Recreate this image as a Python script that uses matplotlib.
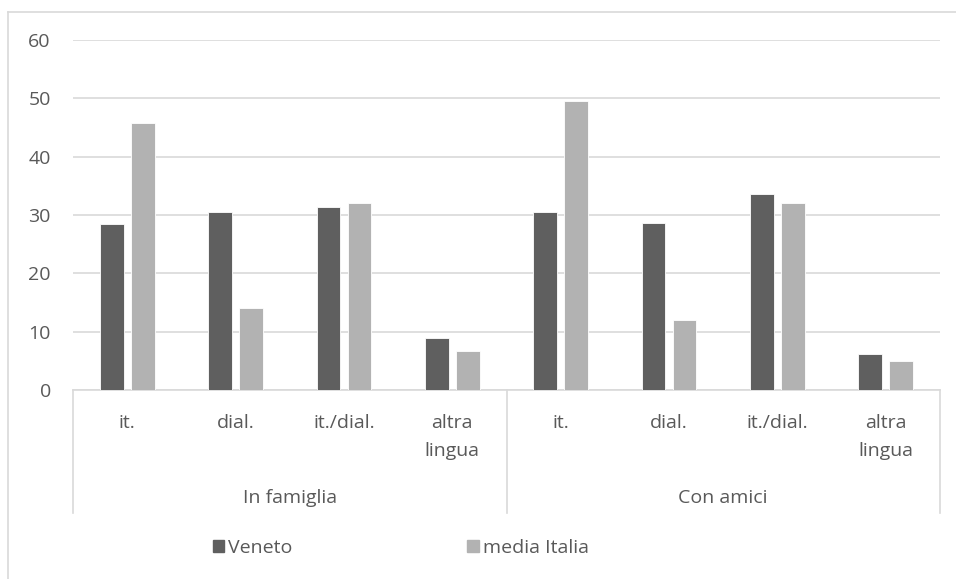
import numpy as np
import matplotlib.pyplot as plt
from matplotlib.transforms import blended_transform_factory
from matplotlib.patches import Patch

plt.rcParams['font.family'] = ['Open Sans', 'DejaVu Sans']

groups = ["In famiglia", "Con amici"]
categories = ["it.", "dial.", "it./dial.", "altra\nlingua"]
veneto = [28.4, 30.5, 31.3, 8.9, 30.5, 28.6, 33.6, 6.1]
media_italia = [45.8, 14.0, 32.1, 6.7, 49.6, 12.0, 32.1, 5.0]
series_names = ["Veneto", "media Italia"]

dark = "#5f5f5f"
light = "#b2b2b2"
grid = "#d9d9d9"
txt = "#595959"
fs = 14

W, H = 956, 579
fig = plt.figure(figsize=(W / 100, H / 100), dpi=100)
ax = fig.add_axes([73 / W, (H - 390) / H, (940 - 73) / W, (390 - 40) / H])

x = np.arange(len(veneto))
bw = 0.22
ax.bar(x - 0.143, veneto, bw, color=dark, edgecolor="white", linewidth=0.6, zorder=3)
ax.bar(x + 0.143, media_italia, bw, color=light, edgecolor="white", linewidth=0.6, zorder=3)

ax.set_xlim(-0.5, len(veneto) - 0.5)
ax.set_ylim(0, 60)
ax.set_yticks(range(0, 61, 10))
ax.yaxis.grid(True, color=grid, linewidth=1.2, zorder=0)
ax.tick_params(axis="y", length=0, labelsize=fs, labelcolor=txt, pad=16)
ax.set_xticks([])
for s in ["top", "right", "left"]:
    ax.spines[s].set_visible(False)
ax.spines["bottom"].set_color(grid)
ax.spines["bottom"].set_linewidth(1.2)

# two-level category axis
tr = blended_transform_factory(ax.transData, fig.transFigure)
for i, xi in enumerate(x):
    ax.text(xi, 1 - 414 / H, categories[i % 4], transform=tr, ha="center", va="top",
            fontsize=fs, color=txt, linespacing=1.75)
for sep in [-0.5, 3.5, 7.5]:
    ax.plot([sep, sep], [1 - 390 / H, 1 - 513 / H], transform=tr, color=grid,
            linewidth=1.2, clip_on=False)
for g, name in enumerate(groups):
    ax.text(g * 4 + 1.5, 1 - 498 / H, name, transform=tr, ha="center", va="center",
            fontsize=fs, color=txt)

# chart border
fig.add_artist(plt.Line2D([8 / W, 8 / W], [0, 1 - 12 / H], color=grid, linewidth=1.2))
fig.add_artist(plt.Line2D([8 / W, 1], [1 - 12 / H, 1 - 12 / H], color=grid, linewidth=1.2))

handles = [Patch(color=dark), Patch(color=light)]
fig.legend(handles, series_names, loc="center left", bbox_to_anchor=(195 / W, 1 - 548 / H),
           ncol=2, frameon=False, fontsize=fs, labelcolor=txt, handlelength=0.6,
           handleheight=0.6, handletextpad=0.2, columnspacing=9.0)

fig.savefig("out.png", dpi=100)
